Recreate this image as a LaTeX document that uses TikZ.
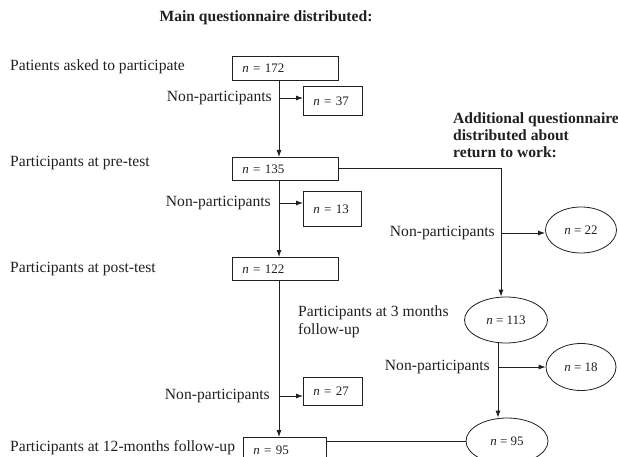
\documentclass[tikz,border=0pt]{standalone}
\usepackage{fontspec}
\setmainfont{Liberation Serif}
\usetikzlibrary{shapes.geometric,arrows.meta}
\definecolor{ink}{RGB}{35,31,32}
\begin{document}
\begin{tikzpicture}[x=1pt,y=-1pt,
  every node/.style={text=ink},
  lbl/.style={inner sep=0pt, font=\fontsize{15.6}{18}\selectfont},
  hdr/.style={inner sep=0pt, align=left, font=\fontsize{15.6}{17}\selectfont\bfseries},
  nbox/.style={draw=ink, line width=0.8pt, anchor=north west, inner xsep=10pt,
    inner ysep=0pt, align=left, font=\fontsize{13}{15}\selectfont},
  nell/.style={draw=ink, line width=0.8pt, ellipse, inner sep=0pt,
    font=\fontsize{13}{15}\selectfont},
  flow/.style={draw=ink, line width=0.8pt},
  arr/.style={flow, -{Latex[length=7pt,width=5pt]}}]
  \useasboundingbox (0,0) rectangle (618,457);
  \clip (0,0) rectangle (618,457);
  % headings
  \node[hdr] (main) at (266,18) {Main questionnaire distributed:};
  \node[hdr, anchor=west] (extra) at (453,135)
    {Additional questionnaire\\distributed about\\return to work:};
  % stages of the main questionnaire
  \node[lbl, anchor=west] (asked) at (10,67) {Patients asked to participate};
  \node[lbl, anchor=west] (pre) at (10,163) {Participants at pre-test};
  \node[lbl, anchor=west] (post) at (10,269) {Participants at post-test};
  \node[lbl, anchor=west] (year) at (10,448) {Participants at 12-months follow-up};
  \node[nbox, text width=86pt, minimum height=24pt] (b172) at (232,56) {\textit{n} = 172};
  \node[nbox, text width=86pt, minimum height=23pt] (b135) at (232,157) {\textit{n} = 135};
  \node[nbox, text width=86pt, minimum height=23pt] (b122) at (232,257) {\textit{n} = 122};
  \node[nbox, text width=63pt, minimum height=26pt] (b95) at (243,437) {\textit{n} = 95};
  \node[nbox, text width=39pt, minimum height=29pt] (b37) at (303,86) {\textit{n} = 37};
  \node[nbox, text width=38pt, minimum height=35pt] (b13) at (303,191) {\textit{n} = 13};
  \node[nbox, text width=39pt, minimum height=28pt] (b27) at (303,377) {\textit{n} = 27};
  \node[lbl, anchor=east] (np1) at (272,98) {Non-participants};
  \node[lbl, anchor=east] (np2) at (271,203) {Non-participants};
  \node[lbl, anchor=east] (np3) at (270,396) {Non-participants};
  % return to work questionnaire
  \node[lbl, anchor=north west, align=left] (three) at (298,305)
    {Participants at 3 months\\follow-up};
  \node[nell, minimum width=71pt, minimum height=46pt] (e22) at (581,230) {\textit{n} = 22};
  \node[nell, minimum width=83pt, minimum height=46pt] (e113) at (506,320) {\textit{n} = 113};
  \node[nell, minimum width=70pt, minimum height=47pt] (e18) at (581,367) {\textit{n} = 18};
  \node[nell, minimum width=82pt, minimum height=46pt] (e95) at (507,441) {\textit{n} = 95};
  \node[lbl, anchor=east] (np4) at (495,233) {Non-participants};
  \node[lbl, anchor=east] (np5) at (490,367) {Non-participants};
  \coordinate (spine) at (279,0);
  \coordinate (rs) at (501,0);
  \coordinate (rs2) at (498,0);
  % connectors
  \draw[arr] (b172.south -| spine) -- (b135.north -| spine);
  \draw[arr] (b135.south -| spine) -- (b122.north -| spine);
  \draw[arr] (b122.south -| spine) -- (b95.north -| spine);
  \draw[arr] (np1.east -| spine) -- (np1.east -| b37.west);
  \draw[arr] (np2.east -| spine) -- (np2.east -| b13.west);
  \draw[arr] (np3.east -| spine) -- (np3.east -| b27.west);
  \draw[arr] (b135.east) -| (rs |- e113.north);
  \draw[arr] (np4.east -| rs) -- (np4.east -| e22.west);
  \draw[arr] (e113.south -| rs2) -- (e95.north -| rs2);
  \draw[arr] (np5.east -| rs2) -- (e18.west);
  \draw[flow] (b95.east |- e95.west) -- (e95.west);
\end{tikzpicture}
\end{document}
